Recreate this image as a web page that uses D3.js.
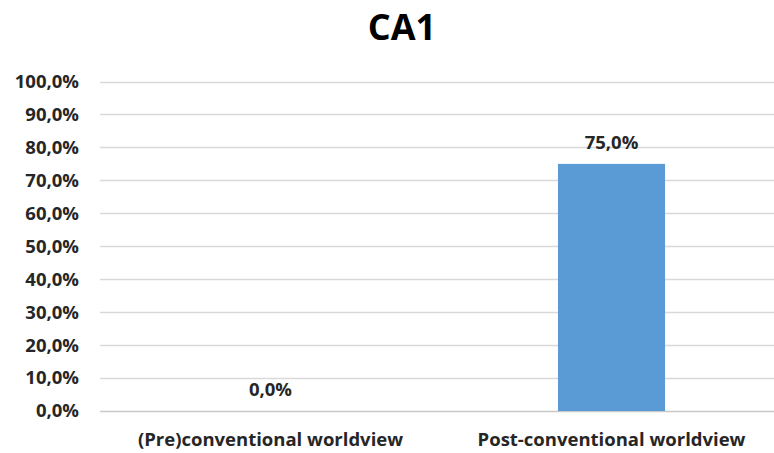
<!DOCTYPE html>
<html lang="en">
<head>
    <meta charset="utf-8">
    <script src="https://d3js.org/d3.v7.min.js"></script>
    <style>
        body { margin: 0; background: #fff; }
        text { font-family: "Open Sans", "Liberation Sans", sans-serif; font-weight: bold; fill: #262626; }
    </style>
</head>
<body>
    <script>
        const title = "CA1";
        const categories = ["(Pre)conventional worldview", "Post-conventional worldview"];
        const values = [0.0, 0.75];
        const yTicks = [0, 0.1, 0.2, 0.3, 0.4, 0.5, 0.6, 0.7, 0.8, 0.9, 1.0];

        const width = 774;
        const height = 453;
        const plot = { left: 100, right: 782, top: 81.5, bottom: 411 };
        const fontSize = "18.5px";

        const fmt = d => d3.format(".1f")(d * 100).replace(".", ",") + "%";

        const svg = d3.select("body")
            .append("svg")
            .attr("width", width)
            .attr("height", height);

        const x = d3.scaleBand()
            .domain(categories)
            .range([plot.left, plot.right])
            .paddingInner(0.686)
            .paddingOuter(0.343);

        const y = d3.scaleLinear()
            .domain([0, 1])
            .range([plot.bottom, plot.top]);

        // gridlines
        svg.append("g")
            .selectAll("line")
            .data(yTicks)
            .enter()
            .append("line")
            .attr("x1", plot.left)
            .attr("x2", plot.right)
            .attr("y1", d => Math.round(y(d)) + 0.5)
            .attr("y2", d => Math.round(y(d)) + 0.5)
            .attr("stroke", d => d === 0 ? "#c8c8c8" : "#d9d9d9")
            .attr("stroke-width", 1.3);

        // y axis labels
        const yAxis = d3.axisLeft(y)
            .tickValues(yTicks)
            .tickFormat(fmt)
            .tickSize(0)
            .tickPadding(0);

        svg.append("g")
            .attr("transform", "translate(79,0)")
            .call(yAxis)
            .call(g => g.select(".domain").remove())
            .selectAll("text")
            .attr("font-size", fontSize)
            .attr("font-family", null)
            .attr("fill", null);

        // bars
        svg.append("g")
            .selectAll("rect")
            .data(values)
            .enter()
            .append("rect")
            .attr("x", (d, i) => x(categories[i]))
            .attr("y", d => y(d))
            .attr("width", x.bandwidth())
            .attr("height", d => y(0) - y(d))
            .attr("fill", "#5b9bd5");

        // value labels
        svg.append("g")
            .selectAll("text")
            .data(values)
            .enter()
            .append("text")
            .attr("x", (d, i) => x(categories[i]) + x.bandwidth() / 2)
            .attr("y", d => y(d) - 15)
            .attr("text-anchor", "middle")
            .attr("font-size", fontSize)
            .text(fmt);

        // category labels
        const xAxis = d3.axisBottom(x).tickSize(0).tickPadding(0);
        svg.append("g")
            .attr("transform", "translate(0," + plot.bottom + ")")
            .call(xAxis)
            .call(g => g.select(".domain").remove())
            .selectAll("text")
            .attr("dy", null)
            .attr("y", 35)
            .attr("font-size", fontSize)
            .attr("font-family", null)
            .attr("fill", null);

        svg.append("text")
            .attr("x", 402)
            .attr("y", 40)
            .attr("text-anchor", "middle")
            .attr("font-size", "36px")
            .style("fill", "#000")
            .text(title);
    </script>
</body>
</html>
